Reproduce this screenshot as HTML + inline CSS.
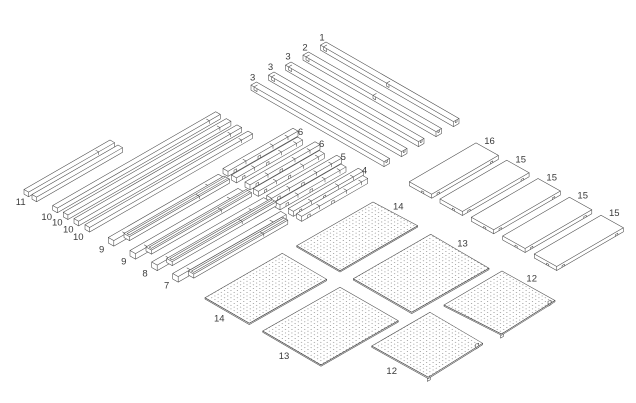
<!DOCTYPE html>
<html><head><meta charset="utf-8">
<style>
html,body{margin:0;padding:0;background:#fff;}
svg{display:block;}
text{font-family:"Liberation Sans",sans-serif;font-size:9.5px;fill:#3a3a3a;}
</style></head><body>
<svg id="s" width="636" height="403" viewBox="0 0 636 403" xmlns="http://www.w3.org/2000/svg">
<defs>
<pattern id="dots" patternUnits="userSpaceOnUse" width="3.7" height="3.7" patternTransform="matrix(0.867 0.5 -0.867 0.5 0 0)">
<rect x="1.4" y="1.4" width="0.85" height="0.85" fill="#666"/>
</pattern>
</defs>
<g id="g" fill="#fff" stroke="#4a4a4a" stroke-width="0.55" stroke-linejoin="round" stroke-linecap="round"></g>
<g text-anchor="middle">
<text x="322" y="40.5">1</text>
<text x="305" y="50.5">2</text>
<text x="288" y="59.5">3</text>
<text x="270.5" y="70">3</text>
<text x="252.7" y="80.5">3</text>
<text x="489.5" y="144">16</text>
<text x="520.7" y="162.7">15</text>
<text x="551.7" y="180.7">15</text>
<text x="582.7" y="198.4">15</text>
<text x="614.3" y="216">15</text>
<text x="398.3" y="209.4">14</text>
<text x="462.5" y="246.7">13</text>
<text x="531.7" y="281.7">12</text>
<text x="219.3" y="321.7">14</text>
<text x="284" y="359">13</text>
<text x="391.7" y="374">12</text>
<text x="20.7" y="205">11</text>
<text x="46.7" y="220">10</text>
<text x="57.3" y="225.7">10</text>
<text x="68.3" y="232.4">10</text>
<text x="78.3" y="240">10</text>
<text x="101.7" y="252.5">9</text>
<text x="123.8" y="264.5">9</text>
<text x="145" y="276.3">8</text>
<text x="166.7" y="288.4">7</text>
<text x="300.5" y="135">6</text>
<text x="321.7" y="147">6</text>
<text x="343.3" y="160">5</text>
<text x="364.5" y="173.4">4</text>
</g>
</svg>
<script>
(function(){
const S=0.575, NS="http://www.w3.org/2000/svg", G=document.getElementById('g');
function P(d,extra){const p=document.createElementNS(NS,'path');p.setAttribute('d',d);if(extra)for(const k in extra)p.setAttribute(k,extra[k]);G.appendChild(p);}
function pt(p){return p[0].toFixed(2)+','+p[1].toFixed(2);}
function add(p,dx,dy){return [p[0]+dx,p[1]+dy];}
function poly(pts,close){return 'M'+pts.map(pt).join('L')+(close?'Z':'');}

function beamV(ax,ay,L,w,h,o){
  o=o||{};
  const q=(t,s)=>[ax+t+s, ay+(t-s)*S];
  const dn=p=>[p[0],p[1]+h];
  const A=q(0,0),B=q(w,0),C=q(0,L),D=q(w,L);
  P(poly([A,C,D,dn(D),dn(B),dn(A)],true));
  let d=poly([A,B,D])+poly([B,dn(B)]);
  if(o.ch){
    d+=poly([q(w*0.3,1.5),q(w*0.3,L-0.4)])+poly([q(w*0.7,1.5),q(w*0.7,L-0.4)])+poly([q(w*0.3,1.5),q(w*0.7,1.5)]);
  }
  (o.ticks||[]).forEach(s=>{const p=q(w,s);d+=poly([p,[p[0],p[1]+h*0.6]])+poly([q(w*0.4,s),p]);});
  (o.notch||[]).forEach(s=>{const a=q(w,s),b=q(w,s+2.5);d+=poly([[a[0],a[1]+h],[a[0],a[1]+h*0.45],[b[0],b[1]+h*0.45],[b[0],b[1]+h]]);});
  P(d,{fill:'none'});
}
function beamU(ax,ay,L,w,h,o){
  o=o||{};
  const q=(t,s)=>[ax+t-s, ay+(t+s)*S];
  const dn=p=>[p[0],p[1]+h];
  const A=q(0,0),Bp=q(0,w),C=q(L,0),D=q(L,w);
  P(poly([A,C,dn(C),dn(D),dn(Bp),Bp],true));
  let d=poly([Bp,D,C])+poly([D,dn(D)]);
  let p1=q(3,w),p2=q(6,w);
  d+=poly([p1,[p1[0],p1[1]+h*0.6],[p2[0],p2[1]+h*0.6],p2]);
  d+=poly([q(3,w*0.4),p1]);
  const e1=q(L,w*0.35),e2=q(L,w*0.65);
  d+=poly([e1,[e1[0],e1[1]+2.2],[e2[0],e2[1]+2.2],e2]);
  (o.mid||[]).forEach(t=>{const a=q(t,w),b=q(t+2.5,w);d+=poly([a,[a[0],a[1]+h*0.6],[b[0],b[1]+h*0.6],b])+poly([q(t,w*0.4),a]);});
  P(d,{fill:'none'});
}
function bench(lx,ly){
  const t=4;
  const L=[lx,ly],T=[lx+66.7,ly-38.8],R=[T[0]+22.4,T[1]+12.5],F=[lx+22.4,ly+12.5];
  const dn=p=>[p[0],p[1]+t];
  P(poly([L,T,R,dn(R),dn(F),dn(L)],true));
  let d=poly([L,F,R])+poly([F,dn(F)]);
  [0.08,0.88].forEach(f=>{
    const x=F[0]+f*(R[0]-F[0]),y=F[1]+f*(R[1]-F[1])+t;
    d+=poly([[x,y],[x,y-1.8],[x+2.4,y-1.8-2.4*S],[x+2.4,y-2.4*S]]);
  });
  const x=L[0]+0.55*(F[0]-L[0]),y=L[1]+0.55*(F[1]-L[1])+t;
  d+=poly([[x,y],[x,y-1.8],[x+2.2,y-1.8+2.2*S],[x+2.2,y+2.2*S]]);
  P(d,{fill:'none'});
}
function plate(T,R,B,L,legs){
  const th=1.3;
  if(legs){
    const K1=R, x1=K1[0]-7, y1=K1[1]+th+1.5;
    P(poly([[x1,y1-2],[x1,y1+3],[x1+3,y1+3-1.7],[x1+3,y1-3]],true));
    const K2=B, x2=K2[0]-1, y2=K2[1]+th-1;
    P(poly([[x2,y2],[x2,y2+3.8],[x2+3,y2+3.8-1.7],[x2+3,y2-1.7]],true));
  }
  P(poly([L,B,R,add(R,0,th),add(B,0,th),add(L,0,th)],true));
  P(poly([T,R,B,L],true),{fill:'url(#dots)'});
}

plate([373,202],[417.7,225.7],[340,270.7],[296.7,245.7]);
plate([430.7,234.3],[489,268.3],[411.7,312.3],[353.3,278.7]);
plate([282.3,253.3],[326.7,279.3],[249.3,323.3],[205,297.7]);
plate([340,287.3],[398.3,320.7],[321,365],[262.7,331]);
plate([502,271],[555,300.5],[501.5,334],[444,305],true);
plate([430,312.3],[482.7,343.3],[428.3,377.3],[371.7,346],true);

bench(409.3,181.7);
bench(440,199);
bench(471.3,217.3);
bench(502.7,236);
bench(534.3,254);

beamU(326,42,133,5.5,5,{mid:[66]});
beamU(308.5,52,133,5.5,5,{mid:[70]});
beamU(291,62,133,5.5,5);
beamU(274,72,133,5.5,5);
beamU(256.5,82,133,5.5,5);

beamV(24,189.5,86,4.6,4.6,{ticks:[70]});
beamV(32,194.5,86,4.6,4.6);

[[52.7,205.5],[63.3,212.3],[74,218.6],[85,224.8]].forEach(b=>beamV(b[0],b[1],163,4.6,4.6,{ticks:[152]}));

[[223,168.5],[231.5,175],[245,182],[253.3,188.5],[266.7,195.5],[275,202],[288.3,208.5],[296.7,213.5]].forEach((b,i)=>{
  beamV(b[0],b[1],i%2?66:70,5,5,{notch:[6,30],ticks:[18,45,60]});
});

[[108.3,237.5,110,124,233.5,100],[130,250.5,108,146,247,100],[151.7,262,112,166.7,258.5,104],[172.7,273.5,108,188.3,271,94]].forEach(g=>{
  beamV(g[0],g[1],g[2],5.5,5.5,{ticks:[12,95]});
  beamV(g[3],g[4],g[5],5.5,4,{ch:true,ticks:[70]});
});
})();
</script>
</body></html>
